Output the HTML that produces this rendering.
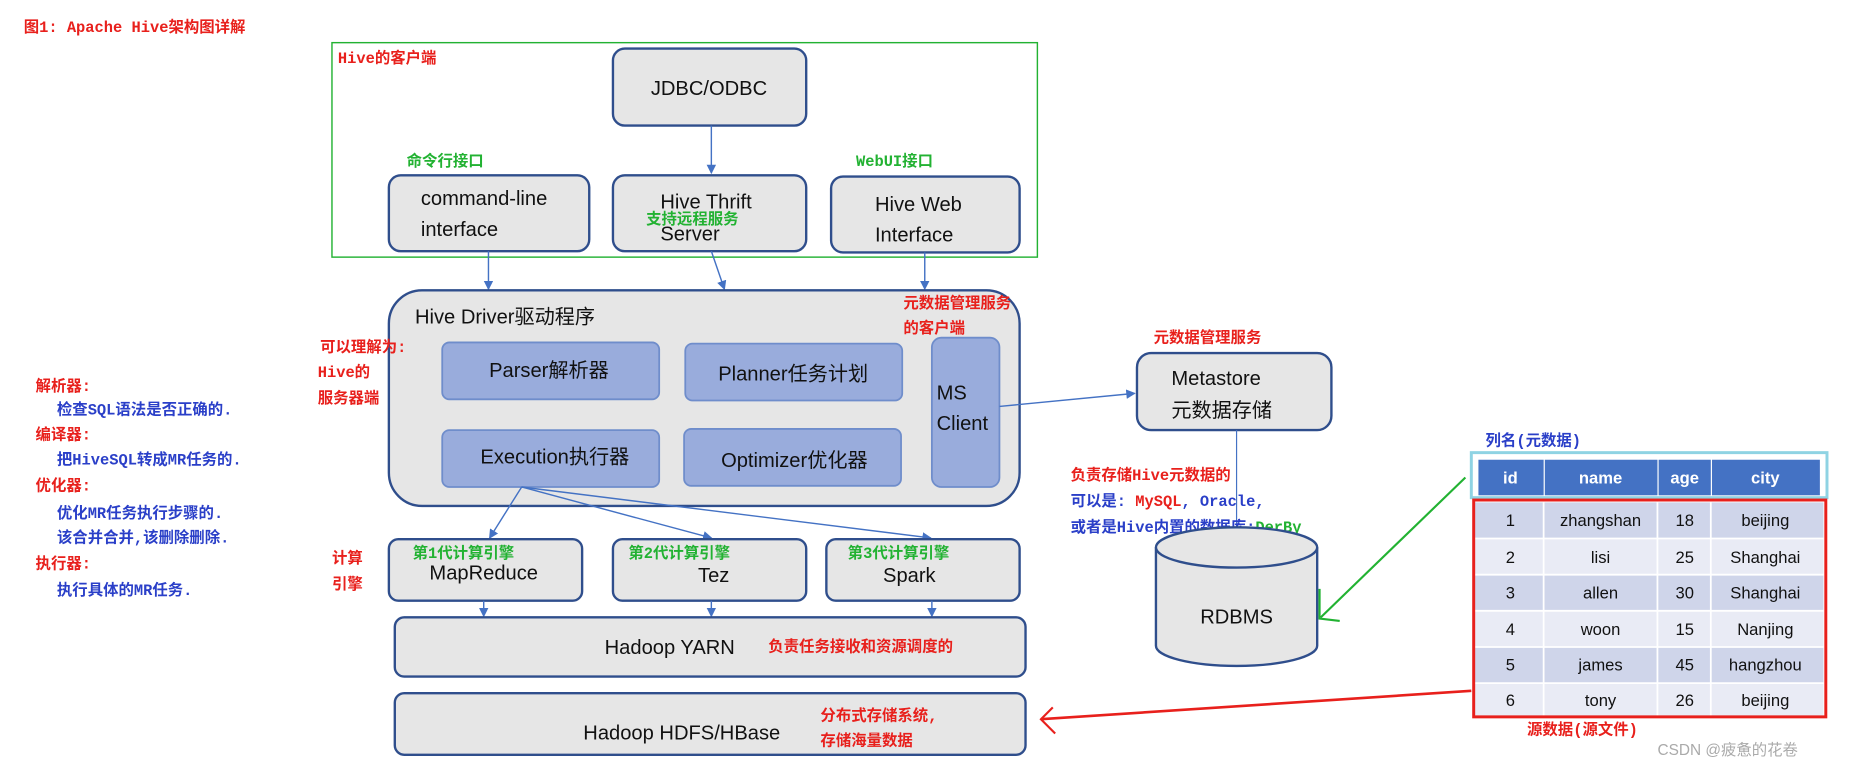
<!DOCTYPE html>
<html><head><meta charset="utf-8"><style>
html,body{margin:0;padding:0;background:#fff;}
svg{display:block;}
.d{font-family:"Liberation Sans","Noto Sans CJK SC",sans-serif;font-size:17px;fill:#111;}
.a{font-family:"Liberation Mono","Noto Sans CJK SC",monospace;font-size:13px;font-weight:bold;}
.r{fill:#e8201c;} .g{fill:#22b232;} .b{fill:#2a3fc8;}
.box{fill:#e6e6e6;stroke:#2f4e8c;stroke-width:2;}
.inb{fill:#99acdc;stroke:#6f8dcb;stroke-width:1.5;}
.ln{stroke:#4472c4;stroke-width:1.2;fill:none;}
.t{font-family:"Liberation Sans",sans-serif;font-size:14px;fill:#111;text-anchor:middle;}
</style></head><body>
<svg width="1859" height="769" viewBox="0 0 1568 649" preserveAspectRatio="none" xmlns="http://www.w3.org/2000/svg">
<defs>
<marker id="ar" markerWidth="8" markerHeight="8" refX="7" refY="4" orient="auto" markerUnits="userSpaceOnUse"><path d="M0,0 L8,4 L0,8 z" fill="#4472c4"/></marker>
</defs>
<rect x="0" y="0" width="1568" height="649" fill="#fff"/>
<text x="20" y="27" class="a r" font-size="14">图1: Apache Hive架构图详解</text>
<rect x="280" y="36" width="595" height="181" fill="none" stroke="#22b232" stroke-width="1.2"/>
<text x="285" y="53" class="a r">Hive的客户端</text>
<rect x="517" y="41" width="163" height="65" rx="10" class="box"/>
<text x="598" y="80" class="d" text-anchor="middle">JDBC/ODBC</text>
<line x1="600" y1="106" x2="600" y2="146" class="ln" marker-end="url(#ar)"/>
<text x="343" y="140" class="a g">命令行接口</text>
<text x="722" y="140" class="a g">WebUI接口</text>
<rect x="328" y="148" width="169" height="64" rx="10" class="box"/>
<text x="355" y="173" class="d">command-line</text>
<text x="355" y="199" class="d">interface</text>
<rect x="517" y="148" width="163" height="64" rx="10" class="box"/>
<text x="557" y="176" class="d">Hive Thrift</text>
<text x="557" y="203" class="d">Server</text>
<text x="545" y="189" class="a g">支持远程服务</text>
<rect x="701" y="149" width="159" height="64" rx="10" class="box"/>
<text x="738" y="178" class="d">Hive Web</text>
<text x="738" y="204" class="d">Interface</text>
<line x1="412" y1="212" x2="412" y2="244" class="ln" marker-end="url(#ar)"/>
<line x1="600" y1="212" x2="611" y2="244" class="ln" marker-end="url(#ar)"/>
<line x1="780" y1="213" x2="780" y2="244" class="ln" marker-end="url(#ar)"/>
<rect x="328" y="245" width="532" height="182" rx="28" class="box"/>
<text x="350" y="273" class="d">Hive Driver驱动程序</text>
<text x="762" y="260" class="a r">元数据管理服务</text>
<text x="762" y="281" class="a r">的客户端</text>
<text x="270" y="297" class="a r">可以理解为:</text>
<text x="268" y="318" class="a r">Hive的</text>
<text x="268" y="340" class="a r">服务器端</text>
<rect x="373" y="289" width="183" height="48" rx="6" class="inb"/>
<text x="463" y="318" class="d" text-anchor="middle">Parser解析器</text>
<rect x="578" y="290" width="183" height="48" rx="6" class="inb"/>
<text x="669" y="321" class="d" text-anchor="middle">Planner任务计划</text>
<rect x="373" y="363" width="183" height="48" rx="6" class="inb"/>
<text x="468" y="391" class="d" text-anchor="middle">Execution执行器</text>
<rect x="577" y="362" width="183" height="48" rx="6" class="inb"/>
<text x="670" y="394" class="d" text-anchor="middle">Optimizer优化器</text>
<rect x="786" y="285" width="57" height="126" rx="8" class="inb"/>
<text x="790" y="337" class="d">MS</text>
<text x="790" y="363" class="d">Client</text>
<line x1="843" y1="343" x2="957" y2="332" class="ln" marker-end="url(#ar)"/>
<text x="973" y="289" class="a r">元数据管理服务</text>
<rect x="959" y="298" width="164" height="65" rx="12" class="box"/>
<text x="988" y="325" class="d">Metastore</text>
<text x="988" y="352" class="d" font-size="18">元数据存储</text>
<line x1="1043" y1="363" x2="1043" y2="455" stroke="#4472c4" stroke-width="1"/>
<text x="903" y="405" class="a r">负责存储Hive元数据的</text>
<text x="903" y="427" class="a b">可以是: <tspan class="r">MySQL</tspan>, Oracle,</text>
<text x="903" y="449" class="a b">或者是Hive内置的数据库:<tspan class="g">DerBy</tspan></text>
<path d="M975,462 L975,545 A68,17 0 0 0 1111,545 L1111,462" class="box"/>
<ellipse cx="1043" cy="462" rx="68" ry="17" class="box"/>
<text x="1043" y="526" class="d" text-anchor="middle">RDBMS</text>
<text x="30" y="330" class="a r">解析器:</text>
<text x="48" y="350" class="a b">检查SQL语法是否正确的.</text>
<text x="30" y="371" class="a r">编译器:</text>
<text x="48" y="392" class="a b">把HiveSQL转成MR任务的.</text>
<text x="30" y="414" class="a r">优化器:</text>
<text x="48" y="437" class="a b">优化MR任务执行步骤的.</text>
<text x="48" y="458" class="a b">该合并合并,该删除删除.</text>
<text x="30" y="480" class="a r">执行器:</text>
<text x="48" y="502" class="a b">执行具体的MR任务.</text>
<line x1="440" y1="411" x2="413" y2="454" class="ln" marker-end="url(#ar)"/>
<line x1="440" y1="411" x2="600" y2="454" class="ln" marker-end="url(#ar)"/>
<line x1="440" y1="411" x2="785" y2="454" class="ln" marker-end="url(#ar)"/>
<text x="280" y="475" class="a r">计算</text>
<text x="280" y="497" class="a r">引擎</text>
<rect x="328" y="455" width="163" height="52" rx="8" class="box"/>
<text x="348" y="471" class="a g">第1代计算引擎</text>
<text x="408" y="489" class="d" text-anchor="middle">MapReduce</text>
<rect x="517" y="455" width="163" height="52" rx="8" class="box"/>
<text x="530" y="471" class="a g">第2代计算引擎</text>
<text x="602" y="491" class="d" text-anchor="middle">Tez</text>
<rect x="697" y="455" width="163" height="52" rx="8" class="box"/>
<text x="715" y="471" class="a g">第3代计算引擎</text>
<text x="767" y="491" class="d" text-anchor="middle">Spark</text>
<line x1="408" y1="507" x2="408" y2="520" class="ln" marker-end="url(#ar)"/>
<line x1="600" y1="507" x2="600" y2="520" class="ln" marker-end="url(#ar)"/>
<line x1="786" y1="507" x2="786" y2="520" class="ln" marker-end="url(#ar)"/>
<rect x="333" y="521" width="532" height="50" rx="8" class="box"/>
<text x="510" y="552" class="d">Hadoop YARN</text>
<text x="648" y="550" class="a r">负责任务接收和资源调度的</text>
<rect x="333" y="585" width="532" height="52" rx="8" class="box"/>
<text x="492" y="624" class="d">Hadoop HDFS/HBase</text>
<text x="692" y="608" class="a r">分布式存储系统,</text>
<text x="692" y="629" class="a r">存储海量数据</text>
<text x="1253" y="376" class="a b">列名(元数据)</text>
<rect x="1241" y="382" width="300" height="38" fill="none" stroke="#8fd3e3" stroke-width="2.5"/>
<g fill="#4472c4">
<rect x="1247" y="388" width="55" height="30"/><rect x="1303" y="388" width="95" height="30"/><rect x="1399" y="388" width="44" height="30"/><rect x="1444" y="388" width="91" height="30"/>
</g>
<g class="t" style="fill:#fff;font-weight:bold;">
<text x="1274" y="408" fill="#fff">id</text><text x="1350" y="408" fill="#fff">name</text><text x="1421" y="408" fill="#fff">age</text><text x="1489" y="408" fill="#fff">city</text>
</g>
<g>
<rect x="1244" y="424" width="294" height="30.5" fill="#cfd5ea"/>
<rect x="1244" y="454.5" width="294" height="30.5" fill="#e9ebf5"/>
<rect x="1244" y="485" width="294" height="30.5" fill="#cfd5ea"/>
<rect x="1244" y="515.5" width="294" height="30.5" fill="#e9ebf5"/>
<rect x="1244" y="546" width="294" height="30.5" fill="#cfd5ea"/>
<rect x="1244" y="576.5" width="294" height="28" fill="#e9ebf5"/>
<g stroke="#fff" stroke-width="1.5"><line x1="1302" y1="424" x2="1302" y2="604"/><line x1="1398" y1="424" x2="1398" y2="604"/><line x1="1443" y1="424" x2="1443" y2="604"/>
<line x1="1244" y1="454.5" x2="1538" y2="454.5"/><line x1="1244" y1="485" x2="1538" y2="485"/><line x1="1244" y1="515.5" x2="1538" y2="515.5"/><line x1="1244" y1="546" x2="1538" y2="546"/><line x1="1244" y1="576.5" x2="1538" y2="576.5"/></g>
</g>
<g class="t">
<text x="1274" y="444">1</text><text x="1350" y="444">zhangshan</text><text x="1421" y="444">18</text><text x="1489" y="444">beijing</text>
<text x="1274" y="475">2</text><text x="1350" y="475">lisi</text><text x="1421" y="475">25</text><text x="1489" y="475">Shanghai</text>
<text x="1274" y="505">3</text><text x="1350" y="505">allen</text><text x="1421" y="505">30</text><text x="1489" y="505">Shanghai</text>
<text x="1274" y="536">4</text><text x="1350" y="536">woon</text><text x="1421" y="536">15</text><text x="1489" y="536">Nanjing</text>
<text x="1274" y="566">5</text><text x="1350" y="566">james</text><text x="1421" y="566">45</text><text x="1489" y="566">hangzhou</text>
<text x="1274" y="596">6</text><text x="1350" y="596">tony</text><text x="1421" y="596">26</text><text x="1489" y="596">beijing</text>
</g>
<rect x="1243" y="422" width="297" height="183" fill="none" stroke="#e8201c" stroke-width="2.5"/>
<text x="1288" y="620" class="a r">源数据(源文件)</text>
<line x1="1236" y1="403" x2="1114" y2="521" stroke="#22b232" stroke-width="1.8"/>
<path d="M1113,497 L1113,522 L1130,524" fill="none" stroke="#22b232" stroke-width="1.8"/>
<line x1="1241" y1="583" x2="878" y2="607" stroke="#e8201c" stroke-width="2.2"/>
<path d="M888,597 L878,607 L890,619" fill="none" stroke="#e8201c" stroke-width="1.8"/>
<text x="1398" y="637" font-family="Liberation Sans,Noto Sans CJK SC,sans-serif" font-size="13" fill="#aaa">CSDN @疲惫的花卷</text>
</svg>
</body></html>
